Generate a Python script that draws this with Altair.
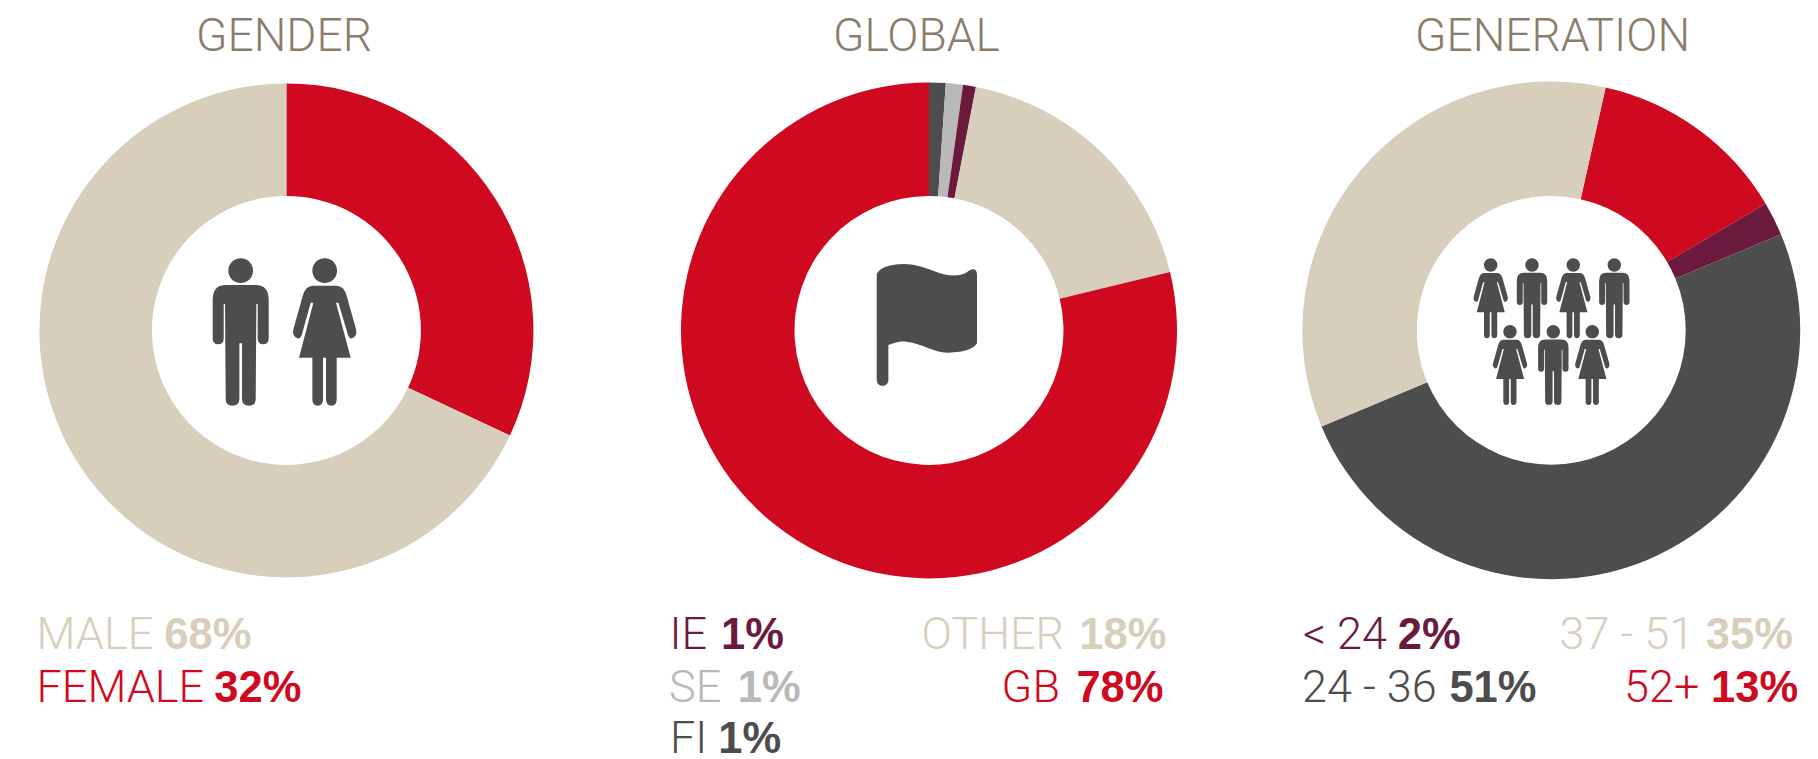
import altair as alt
import pandas as pd

# ---- data ----
gender_names = ["FEMALE", "MALE"]
gender_values = [32, 68]
gender_arcs = [32, 68]
global_names = ["FI", "SE", "IE", "OTHER", "GB"]
global_values = [1, 1, 1, 18, 78]
global_arcs = [1.07, 1.1, 0.83, 18, 78]
generation_names = ["52+", "< 24", "24 - 36", "37 - 51"]
generation_values = [13, 2, 51, 35]
generation_arcs = [13, 2.2, 50, 34.8]

RED, BEIGE, DARK, PURPLE, GREY, TITLE = "#CF0A20", "#D7CEBB", "#4D4D4D", "#6B1A3D", "#B9B9B9", "#8B7D6B"
gender_colors = [RED, BEIGE]
global_colors = [DARK, GREY, PURPLE, BEIGE, RED]
generation_colors = [RED, PURPLE, DARK, BEIGE]

FONT = "Roboto"
BOLD_FONT = "Liberation Sans"
PAGE = 8
CY = 330.4
R_IN = 134.5

MAN = ("M0,-220A37,37 0 1 1 0,-146A37,37 0 1 1 0,-220Z"
       "M-45,-140L45,-140Q84,-140 84,-95L84,20Q84,38 67.5,38Q51,38 51,20L51,-83L47,-83L45,203"
       "Q45,222 25,222Q4,222 4,203L4,35L-4,35L-4,203Q-4,222 -25,222Q-45,222 -45,203L-47,-83L-51,-83"
       "L-51,20Q-51,38 -67.5,38Q-84,38 -84,20L-84,-95Q-84,-140 -45,-140Z")
WOMAN = ("M0,-220A37,37 0 1 1 0,-146A37,37 0 1 1 0,-220Z"
         "M-35,-138L35,-138Q58,-138 66,-107L94,-7Q98,15 82,20Q74,22 70,10L41,-87L34,-87L78,78L36,78"
         "L36,203Q36,222 20,222Q4,222 4,203L4,78L-5,78L-5,203Q-5,222 -21,222Q-37,222 -37,203L-37,78"
         "L-77,78L-34,-87L-42,-87L-69,10Q-73,22 -82,20Q-98,15 -94,-7L-66,-107Q-58,-138 -35,-138Z")
FLAG = ("M-150,-153C-140,-175 -100,-183 -70,-183C-30,-183 0,-170 40,-155C70,-146 95,-146 115,-155"
        "C125,-160 130,-167 140,-167C147,-167 151,-160 151,-150L151,55C140,75 100,83 60,83"
        "C25,83 -15,55 -60,50C-85,48 -100,55 -115,60L-115,165C-115,188 -150,188 -150,165Z")


def px_size(scale):
    # a custom symbol path is drawn at sqrt(size)/2 pixels per unit
    return (2 * scale) ** 2


def donut(names, values, colors, left, cx, r_out, start=0.0):
    df = pd.DataFrame({"name": names, "value": values, "i": range(len(names))})
    return alt.Chart(df).mark_arc(radius=r_out, radius2=R_IN).encode(
        theta=alt.Theta("value:Q", stack=True,
                        scale=alt.Scale(range=[start, start + 6.283185307])),
        order=alt.Order("i:Q"),
        color=alt.Color("name:N", legend=None,
                        scale=alt.Scale(domain=names, range=colors)),
        x=alt.value(cx - left), y=alt.value(CY - PAGE),
    )


def text(s, left, x, base, size, color, font=FONT, weight=300):
    df = pd.DataFrame({"t": [s]})
    return alt.Chart(df).mark_text(
        font=font, fontSize=size, fontWeight=weight, color=color,
        align="left", baseline="alphabetic",
    ).encode(text="t:N", x=alt.value(x - left), y=alt.value(base - PAGE))


def icon(path, left, x, y, scale):
    df = pd.DataFrame({"k": [0]})
    return alt.Chart(df).mark_point(
        shape=path, filled=True, fill=DARK, opacity=1, strokeWidth=0, size=px_size(scale),
    ).encode(x=alt.value(x - left), y=alt.value(y - PAGE))


ROW1, ROW2, ROW3 = 649.3, 701.5, 753
LS = 45
VS = 43.5
TS = 46
H = 749


def labelled(name, value, color, left, x1, x2, base):
    return [text(name, left, x1 - 2, base, LS, color),
            text(f"{value}%", left, x2 - 1, base, VS, color, BOLD_FONT, "bold")]


def panel(layers, width):
    return alt.layer(*layers).properties(width=width, height=H)


# panel 1
L1, W1 = 8, 556
p1 = [donut(gender_names, gender_arcs, gender_colors, L1, 286.4, 247),
      text("GENDER", L1, 196, 51, TS, TITLE),
      icon(MAN, L1, 240.7, 331.7, 1 / 3),
      icon(WOMAN, L1, 324.7, 331.7, 1 / 3)]
p1 += labelled("MALE", gender_values[1], BEIGE, L1, 38.5, 165.3, ROW1)
p1 += labelled("FEMALE", gender_values[0], RED, L1, 38.5, 215.3, ROW2)

# panel 2
L2, W2 = 564, 729
p2 = [donut(global_names, global_arcs, global_colors, L2, 929, 248),
      text("GLOBAL", L2, 833, 51, TS, TITLE),
      icon(FLAG, L2, 926.7, 325, 1 / 3)]
p2 += labelled("IE", global_values[2], PURPLE, L2, 671.6, 722, ROW1)
p2 += labelled("SE", global_values[1], GREY, L2, 671, 738.8, ROW2)
p2 += labelled("FI", global_values[0], DARK, L2, 672, 719.3, ROW3)
p2 += labelled("OTHER", global_values[3], BEIGE, L2, 923.4, 1080.3, ROW1)
p2 += labelled("GB", global_values[4], RED, L2, 1003.6, 1077.4, ROW2)

# panel 3
L3, W3 = 1293, 517
p3 = [donut(generation_names, generation_arcs, generation_colors, L3, 1551.3, 249, 0.22),
      text("GENERATION", L3, 1415, 51, TS, TITLE)]
K = 0.543 / 3
for path, x, y in [(WOMAN, 1490.7, 298.1), (MAN, 1532, 298.1), (WOMAN, 1573.3, 298.1), (MAN, 1614.3, 298.1),
                   (WOMAN, 1510, 364.8), (MAN, 1553.3, 364.8), (WOMAN, 1592.3, 364.8)]:
    p3.append(icon(path, L3, x, y, K))
p3 += labelled("< 24", generation_values[1], PURPLE, L3, 1305, 1398.8, ROW1)
p3 += labelled("24 - 36", generation_values[2], DARK, L3, 1304, 1450.4, ROW2)
p3 += labelled("37 - 51", generation_values[3], BEIGE, L3, 1561.6, 1706.8, ROW1)
p3 += labelled("52+", generation_values[0], RED, L3, 1626, 1712, ROW2)

chart = alt.hconcat(panel(p1, W1), panel(p2, W2), panel(p3, W3), spacing=0, bounds="flush").properties(
    padding=0
).configure_view(stroke=None).resolve_scale(color="independent", theta="independent")

chart.save("out.html", embed_options={"renderer": "svg", "actions": False})
